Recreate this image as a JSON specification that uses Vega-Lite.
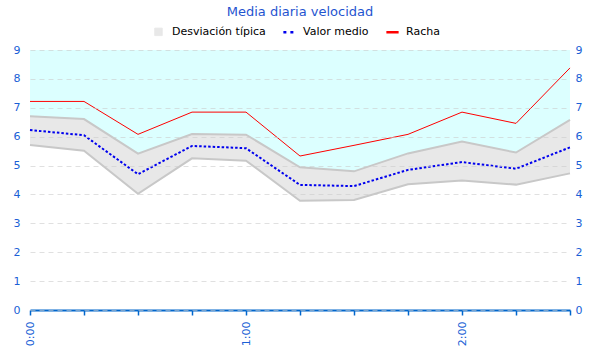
{
  "$schema": "https://vega.github.io/schema/vega-lite/v6.json",
  "width": 540,
  "height": 260,
  "autosize": {"type": "none"},
  "padding": {"left": 30, "top": 50, "right": 30, "bottom": 50},
  "background": "white",
  "config": {
    "font": "DejaVu Sans",
    "view": {"stroke": null},
    "axis": {"labelFont": "DejaVu Sans", "labelColor": "#1a5fd6", "labelFontSize": 11}
  },
  "title": {"text": "Media diaria velocidad", "color": "#1f55d0", "fontSize": 13, "fontWeight": "normal", "font": "DejaVu Sans", "offset": 7, "anchor": "middle"},
  "data": {"values": [
    {"t": "2024-01-01T00:00:00", "lower": 5.71, "mean": 6.23, "upper": 6.71, "racha": 7.22},
    {"t": "2024-01-01T00:15:00", "lower": 5.51, "mean": 6.05, "upper": 6.61, "racha": 7.22},
    {"t": "2024-01-01T00:30:00", "lower": 4.02, "mean": 4.70, "upper": 5.41, "racha": 6.08},
    {"t": "2024-01-01T00:45:00", "lower": 5.25, "mean": 5.68, "upper": 6.09, "racha": 6.85},
    {"t": "2024-01-01T01:00:00", "lower": 5.17, "mean": 5.60, "upper": 6.07, "racha": 6.85},
    {"t": "2024-01-01T01:15:00", "lower": 3.78, "mean": 4.33, "upper": 4.94, "racha": 5.33},
    {"t": "2024-01-01T01:30:00", "lower": 3.81, "mean": 4.29, "upper": 4.80, "racha": 5.70},
    {"t": "2024-01-01T01:45:00", "lower": 4.35, "mean": 4.85, "upper": 5.42, "racha": 6.08},
    {"t": "2024-01-01T02:00:00", "lower": 4.48, "mean": 5.12, "upper": 5.83, "racha": 6.85},
    {"t": "2024-01-01T02:15:00", "lower": 4.34, "mean": 4.89, "upper": 5.45, "racha": 6.46},
    {"t": "2024-01-01T02:30:00", "lower": 4.73, "mean": 5.63, "upper": 6.58, "racha": 8.38}
  ]},
  "layer": [
    {
      "mark": {"type": "area", "color": "#dcffff"},
      "encoding": {
        "x": {
          "field": "t", "type": "temporal", "title": null,
          "scale": {"nice": false},
          "axis": {
            "values": [
              {"year": 2024, "month": 1, "date": 1, "hours": 0, "minutes": 0},
              {"year": 2024, "month": 1, "date": 1, "hours": 0, "minutes": 15},
              {"year": 2024, "month": 1, "date": 1, "hours": 0, "minutes": 30},
              {"year": 2024, "month": 1, "date": 1, "hours": 0, "minutes": 45},
              {"year": 2024, "month": 1, "date": 1, "hours": 1, "minutes": 0},
              {"year": 2024, "month": 1, "date": 1, "hours": 1, "minutes": 15},
              {"year": 2024, "month": 1, "date": 1, "hours": 1, "minutes": 30},
              {"year": 2024, "month": 1, "date": 1, "hours": 1, "minutes": 45},
              {"year": 2024, "month": 1, "date": 1, "hours": 2, "minutes": 0},
              {"year": 2024, "month": 1, "date": 1, "hours": 2, "minutes": 15},
              {"year": 2024, "month": 1, "date": 1, "hours": 2, "minutes": 30}
            ],
            "labelExpr": "minutes(datum.value) == 0 ? hours(datum.value) + ':00' : ''",
            "labelAngle": 270, "labelFontSize": 11, "labelPadding": 6,
            "domainColor": "#0066cc", "domainWidth": 2, "tickColor": "#0066cc", "tickSize": 5, "tickWidth": 1.5,
            "grid": false, "labelOverlap": false, "labelFlush": false
          }
        },
        "y": {"field": "upper", "type": "quantitative", "scale": {"domain": [0, 9], "nice": false}, "title": null,
          "axis": {"orient": "left", "values": [0,1,2,3,4,5,6,7,8,9], "domain": false, "ticks": false, "labelPadding": 10,
            "grid": true, "gridColor": "#cccccc", "gridOpacity": 0.6, "gridDash": [5, 4], "zindex": 1}},
        "y2": {"datum": 9}
      }
    },
    {
      "mark": {"type": "area", "color": "#e8e8e8"},
      "encoding": {
        "x": {"field": "t", "type": "temporal"},
        "y": {"field": "upper", "type": "quantitative", "axis": null},
        "y2": {"field": "lower"},
        "color": {"datum": "Desviación típica", "type": "nominal",
          "scale": {"domain": ["Desviación típica", "Valor medio", "Racha"], "range": ["#e8e8e8", "#0000ee", "#ff0000"]},
          "legend": {
            "title": null, "orient": "none", "legendX": 123, "legendY": -24, "direction": "horizontal",
            "labelFont": "DejaVu Sans", "labelFontSize": 11, "labelColor": "#000000",
            "symbolSize": 100, "columnPadding": 12, "labelOffset": 8, "symbolType": "stroke", "symbolStrokeWidth": 2.5,
            "encode": {
              "symbols": {"update": {
                "shape": {"signal": "datum.value == 'Desviación típica' ? 'square' : 'stroke'"},
                "fill": {"signal": "datum.value == 'Desviación típica' ? '#e6e6e6' : 'transparent'"},
                "stroke": {"signal": "datum.value == 'Desviación típica' ? '#777777' : (datum.value == 'Valor medio' ? '#0000ee' : '#ff0000')"},
                "strokeWidth": {"signal": "datum.value == 'Desviación típica' ? 1 : 2.5"},
                "size": {"signal": "datum.value == 'Desviación típica' ? 56 : 150"},
                "strokeDash": {"signal": "datum.value == 'Valor medio' ? [3, 4] : [1, 0]"}
              }}
            }
          }
        }
      }
    },
    {
      "mark": {"type": "line", "color": "#c8c8c8", "strokeWidth": 2},
      "encoding": {"x": {"field": "t", "type": "temporal"}, "y": {"field": "upper", "type": "quantitative", "axis": null}}
    },
    {
      "mark": {"type": "line", "color": "#c8c8c8", "strokeWidth": 2},
      "encoding": {"x": {"field": "t", "type": "temporal"}, "y": {"field": "lower", "type": "quantitative", "axis": null}}
    },
    {
      "mark": {"type": "line", "strokeWidth": 2, "strokeDash": [2.5, 2]},
      "encoding": {"x": {"field": "t", "type": "temporal"}, "y": {"field": "mean", "type": "quantitative", "axis": null}, "color": {"datum": "Valor medio", "type": "nominal"}}
    },
    {
      "mark": {"type": "line", "strokeWidth": 1},
      "encoding": {"x": {"field": "t", "type": "temporal"}, "y": {"field": "racha", "type": "quantitative", "axis": null}, "color": {"datum": "Racha", "type": "nominal"}}
    },
    {
      "mark": {"type": "line", "opacity": 0},
      "encoding": {
        "x": {"field": "t", "type": "temporal"},
        "y": {"field": "racha", "type": "quantitative",
          "axis": {"orient": "right", "values": [0,1,2,3,4,5,6,7,8,9], "domain": false, "ticks": false, "labelPadding": 5, "grid": false, "title": null}}
      }
    }
  ],
  "resolve": {"scale": {"y": "shared"}, "axis": {"y": "independent"}}
}
